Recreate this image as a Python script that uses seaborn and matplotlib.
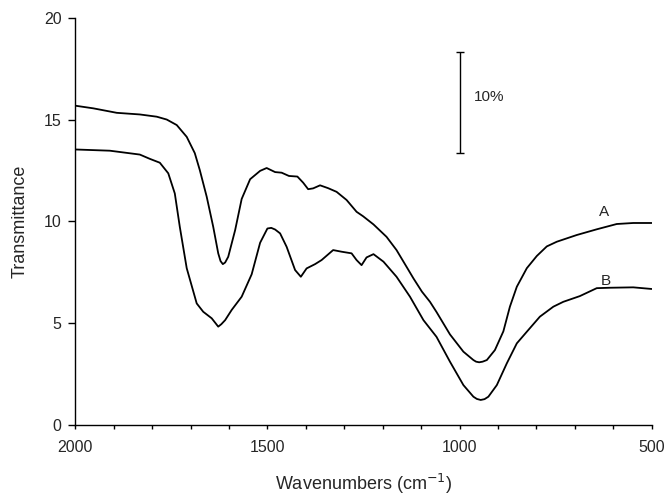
import matplotlib
matplotlib.use("Agg")
import matplotlib.pyplot as plt
from matplotlib.ticker import MultipleLocator
import seaborn as sns
import pandas as pd

sns.set_style("white")
plt.rcParams['font.family'] = ['Liberation Sans', 'DejaVu Sans']

# spectrum A (wavenumber, transmittance)
wn_a = [2000, 1953, 1892, 1832, 1788, 1762, 1736, 1710, 1689, 1676, 1658, 1641,
        1628, 1622, 1616, 1610, 1602, 1584, 1567, 1545, 1519, 1502, 1480, 1463, 1444, 1422,
        1407, 1394, 1381, 1363, 1342, 1320, 1294, 1268, 1251, 1224, 1190, 1164,
        1138, 1120, 1098, 1077, 1060, 1025, 990, 964, 957, 949, 940, 929, 908, 886, 869,
        851, 825, 799, 773, 747, 695, 643, 591, 548, 500]
tr_a = [15.68, 15.55, 15.33, 15.25, 15.14, 15.0, 14.73, 14.15, 13.35, 12.52, 11.21, 9.73,
        8.43, 8.05, 7.9, 7.98, 8.26, 9.57, 11.1, 12.07, 12.48, 12.62, 12.42, 12.39, 12.23, 12.2,
        11.9, 11.58, 11.62, 11.77, 11.63, 11.45, 11.05, 10.47, 10.25, 9.85, 9.24, 8.59,
        7.77, 7.2, 6.55, 6.05, 5.55, 4.45, 3.6, 3.19, 3.11, 3.08, 3.11, 3.19, 3.68, 4.6, 5.81,
        6.79, 7.7, 8.3, 8.77, 9.0, 9.33, 9.61, 9.87, 9.92, 9.92]

# spectrum B
wn_b = [2000, 1910, 1832, 1806, 1780, 1758, 1741, 1728, 1710, 1684, 1667, 1645,
        1635, 1628, 1620, 1610, 1593, 1567, 1541, 1519, 1500, 1490, 1480, 1467, 1450, 1428, 1413, 1398,
        1376, 1359, 1329, 1307, 1281, 1268, 1255, 1242, 1224, 1198, 1164, 1129,
        1094, 1060, 1025, 990, 964, 955, 945, 935, 925, 903, 877, 851, 825, 791, 756, 730,
        687, 643, 609, 548, 500]
tr_b = [13.53, 13.47, 13.28, 13.07, 12.88, 12.36, 11.37, 9.73, 7.7, 5.97, 5.56, 5.24,
        5.0, 4.83, 4.95, 5.15, 5.65, 6.3, 7.4, 8.95, 9.65, 9.68, 9.6, 9.41, 8.75, 7.61, 7.28, 7.69,
        7.9, 8.1, 8.59, 8.51, 8.43, 8.1, 7.85, 8.23, 8.39, 8.02, 7.28, 6.3,
        5.15, 4.33, 3.11, 1.96, 1.39, 1.28, 1.23, 1.27, 1.39, 1.96, 3.03, 4.01, 4.58, 5.32, 5.81, 6.05,
        6.33, 6.72, 6.74, 6.76, 6.68]

df = pd.concat([
    pd.DataFrame({"wn": wn_a, "T": tr_a, "sample": "A"}),
    pd.DataFrame({"wn": wn_b, "T": tr_b, "sample": "B"}),
])

fig = plt.figure(figsize=(6.65, 4.95), dpi=100)
ax = fig.add_axes([0.1132, 0.1414, 0.8668, 0.8228])

sns.lineplot(data=df, x="wn", y="T", units="sample", estimator=None,
             color="black", linewidth=1.3, sort=False, ax=ax)

# 10% scale bar
ax.errorbar([1000], [15.85], yerr=[2.48], color="black", linewidth=1.0,
            capsize=3, capthick=1.0)
ax.text(962, 16.1, "10%", fontsize=11, ha="left", va="center")
ax.text(624, 10.45, "A", fontsize=11, ha="center", va="center")
ax.text(619, 7.05, "B", fontsize=11, ha="center", va="center")

ax.set_xlim(2000, 500)
ax.set_ylim(0, 20)
ax.xaxis.set_major_locator(MultipleLocator(500))
ax.xaxis.set_minor_locator(MultipleLocator(100))
ax.yaxis.set_major_locator(MultipleLocator(5))
ax.tick_params(axis="x", which="both", direction="out", length=3, width=1,
               color="black", labelsize=11.5, pad=8, bottom=True)
ax.tick_params(axis="y", which="major", direction="out", length=5, width=1,
               color="black", labelsize=11.5, pad=5, left=True)

for s in ["top", "right"]:
    ax.spines[s].set_visible(False)
for s in ["left", "bottom"]:
    ax.spines[s].set_color("black")
    ax.spines[s].set_linewidth(1.0)

ax.set_xlabel("Wavenumbers (cm$^{-1}$)", fontsize=13, labelpad=12)
ax.set_ylabel("Transmittance", fontsize=13, labelpad=11)

fig.savefig("out.png", dpi=100)
